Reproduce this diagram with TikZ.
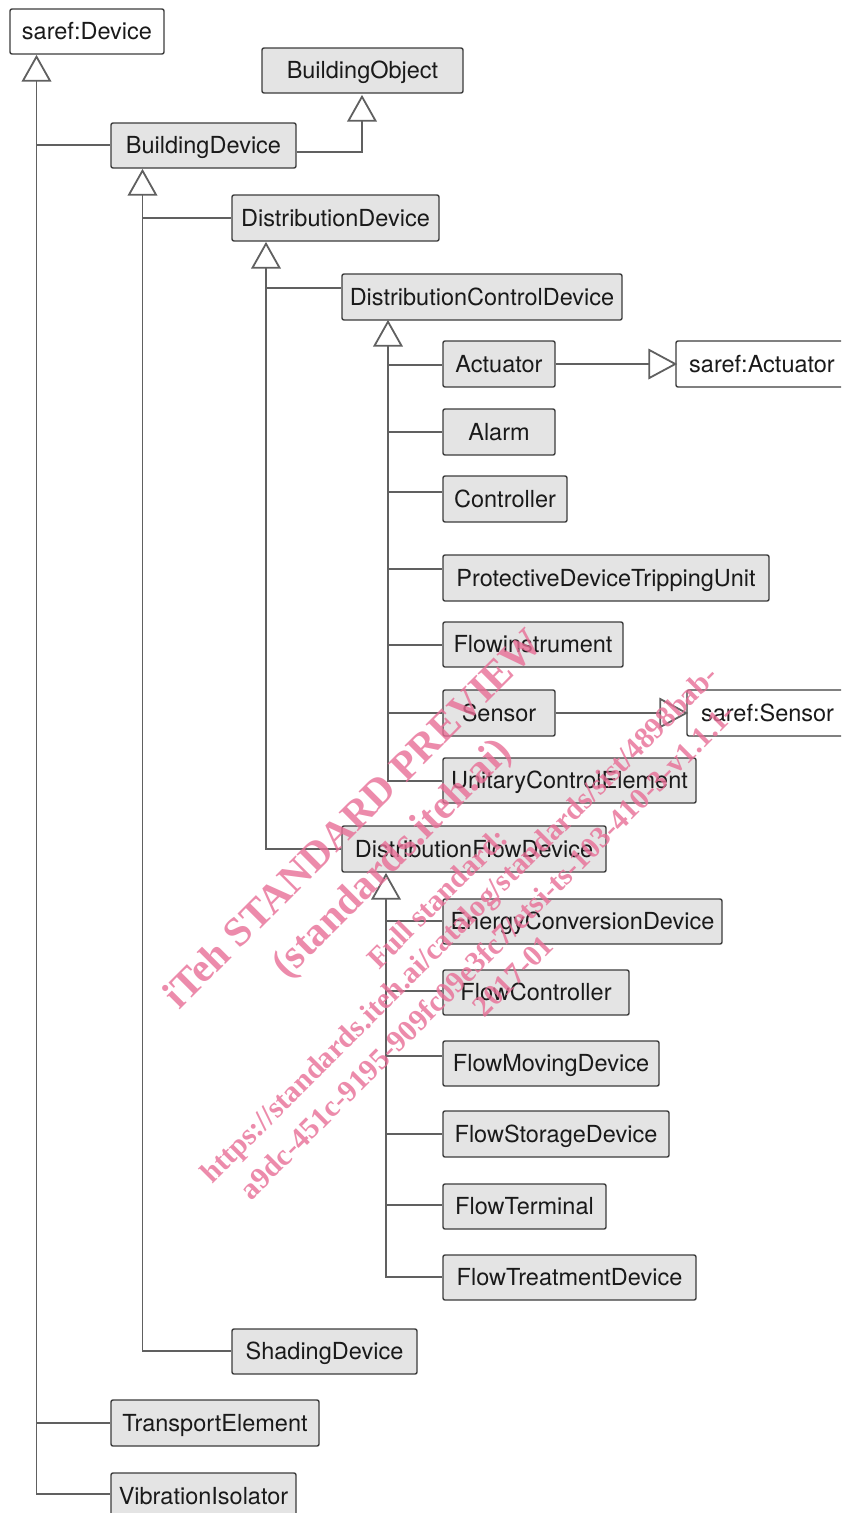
\documentclass[tikz,border=0pt]{standalone}
\usepackage{fontspec}
\setmainfont{TeX Gyre Heros}
\newfontfamily\wmfont{Liberation Serif}
\definecolor{boxfill}{HTML}{E4E4E4}
\definecolor{boxline}{HTML}{3C3C3C}
\definecolor{lineclr}{HTML}{606060}
\definecolor{txtclr}{HTML}{1A1A1A}
\definecolor{wmpink}{RGB}{232,110,150}
\newcommand\umlbox[7]{\node[#1, minimum width={(#4-#3)*1pt}, minimum height={(#6-#5)*1pt}] (#2) at ({(#3+#4)/2},{(#5+#6)/2}) {#7};}
\newcommand\genup[1]{\draw[gen] (#1) -- ++(13.5,24) -- ++(-27,0) -- cycle;}
\newcommand\genright[1]{\draw[gen] (#1) -- ++(-26,-14) -- ++(0,28) -- cycle;}
\tikzset{
  cls/.style={draw=boxline, fill=boxfill, line width=1.4pt, rounded corners=2pt, inner sep=0pt,
    text height=16.8pt, text depth=0pt, font=\fontsize{23.5}{28}\selectfont, text=txtclr},
  ext/.style={cls, fill=white},
  conn/.style={draw=lineclr, line width=1.8pt},
  gen/.style={draw=lineclr, fill=white, line width=1.8pt, line join=miter},
  wm/.style={text=wmpink, opacity=0.8, font=\wmfont\bfseries\fontsize{41}{49}\selectfont, rotate=45, inner sep=0pt},
  wmsmall/.style={wm, font=\wmfont\bfseries\fontsize{30}{35}\selectfont},
}
\begin{document}
\begin{tikzpicture}[x=1pt,y=-1pt]
\useasboundingbox (0,0) rectangle (841,1513);
\clip (0,0) rectangle (841,1513);
\fill[white] (0,0) rectangle (841,1513);

% boxes
\umlbox{ext}{sdev}{10}{164}{9}{54}{saref:Device}
\umlbox{cls}{bobj}{262}{463}{48}{93}{BuildingObject}
\umlbox{cls}{bdev}{111}{296}{123}{168}{BuildingDevice}
\umlbox{cls}{ddev}{232}{439}{195}{241}{DistributionDevice}
\umlbox{cls}{dcd}{342}{622}{274}{320}{DistributionControlDevice}
\umlbox{cls}{act}{443}{555}{341}{387}{Actuator}
\umlbox{ext}{sact}{676}{848}{341}{387}{saref:Actuator}
\umlbox{cls}{alarm}{443}{555}{409}{455}{Alarm}
\umlbox{cls}{ctrl}{443}{567}{476}{522}{Controller}
\umlbox{cls}{pdtu}{443}{769}{555}{601}{ProtectiveDeviceTrippingUnit}
\umlbox{cls}{fi}{443}{623}{622}{667}{Flowinstrument}
\umlbox{cls}{sens}{443}{555}{690}{736}{Sensor}
\umlbox{ext}{ssens}{687}{848}{690}{736}{saref:Sensor}
\umlbox{cls}{uce}{443}{696}{758}{803}{UnitaryControlElement}
\umlbox{cls}{dfd}{342}{606}{826}{872}{DistributionFlowDevice}
\umlbox{cls}{ecd}{443}{722}{899}{944}{EnergyConversionDevice}
\umlbox{cls}{fc}{443}{629}{970}{1015}{FlowController}
\umlbox{cls}{fmd}{443}{659}{1041}{1086}{FlowMovingDevice}
\umlbox{cls}{fsd}{443}{669}{1111}{1157}{FlowStorageDevice}
\umlbox{cls}{ft}{443}{606}{1184}{1229}{FlowTerminal}
\umlbox{cls}{ftd}{443}{696}{1255}{1300}{FlowTreatmentDevice}
\umlbox{cls}{shd}{232}{417}{1329}{1374}{ShadingDevice}
\umlbox{cls}{te}{111}{319}{1400}{1446}{TransportElement}
\umlbox{cls}{vi}{111}{296}{1473}{1519}{VibrationIsolator}

% triangle tips
\coordinate (tA) at (sdev.south -| 36.5,0);
\coordinate (tB) at (bdev.south -| 142.5,0);
\coordinate (tD) at (ddev.south -| 266,0);
\coordinate (tC) at (dcd.south -| 388,0);
\coordinate (tF) at (dfd.south -| 386,0);
\coordinate (tO) at (bobj.south -| 362,0);

% saref:Device hierarchy
\draw[conn] ([yshift=-24pt]tA) -- (36.5,1494) -- (vi.west |- 0,1494);
\draw[conn] (36.5,145) -- (bdev.west |- 0,145);
\draw[conn] (36.5,1423) -- (te.west |- 0,1423);
% BuildingDevice -> BuildingObject
\draw[conn] (bdev.east |- 0,152) -| ([yshift=-24pt]tO);
% BuildingDevice hierarchy
\draw[conn] ([yshift=-24pt]tB) -- (142.5,1351) -- (shd.west |- 0,1351);
\draw[conn] (142.5,218) -- (ddev.west |- 0,218);
% DistributionDevice hierarchy
\draw[conn] ([yshift=-24pt]tD) -- (266,849) -- (dfd.west |- 0,849);
\draw[conn] (266,288) -- (dcd.west |- 0,288);
% DistributionControlDevice hierarchy
\draw[conn] ([yshift=-24pt]tC) -- (388,781) -- (uce.west |- 0,781);
\draw[conn] (388,365) -- (act.west |- 0,365);
\draw[conn] (388,432) -- (alarm.west |- 0,432);
\draw[conn] (388,492) -- (ctrl.west |- 0,492);
\draw[conn] (388,569) -- (pdtu.west |- 0,569);
\draw[conn] (388,645) -- (fi.west |- 0,645);
\draw[conn] (388,713) -- (sens.west |- 0,713);
% DistributionFlowDevice hierarchy
\draw[conn] ([yshift=-24pt]tF) -- (386,1277) -- (ftd.west |- 0,1277);
\draw[conn] (386,921) -- (ecd.west |- 0,921);
\draw[conn] (386,991) -- (fc.west |- 0,991);
\draw[conn] (386,1056) -- (fmd.west |- 0,1056);
\draw[conn] (386,1134) -- (fsd.west |- 0,1134);
\draw[conn] (386,1205) -- (ft.west |- 0,1205);
% realisations to saref
\coordinate (tSA) at (sact.west |- 0,364);
\coordinate (tSS) at (ssens.west |- 0,713);
\draw[conn] (act.east |- 0,364) -- ([xshift=-26pt]tSA);
\draw[conn] (sens.east |- 0,713) -- ([xshift=-26pt]tSS);

% generalisation heads
\genup{[yshift=-2pt]tA}
\genup{[yshift=-3pt]tO}
\genup{[yshift=-2pt]tB}
\genup{[yshift=-2pt]tD}
\genup{[yshift=-1pt]tC}
\genup{[yshift=-2pt]tF}
\genright{tSA}
\genright{tSS}

% watermark
\node[wm] (wm1) at (352,818) {iTeh STANDARD PREVIEW};
\node[wm] (wm2) at (393,860) {(standards.iteh.ai)};
\node[wmsmall] (wm3) at (437,898) {Full standard:};
\node[wmsmall] (wm4) at (461,926) {https://standards.iteh.ai/catalog/standards/sist/4898bab-};
\node[wmsmall] (wm5) at (487,951) {a9dc-451c-9195-909fc09e3fc7/etsi-ts-103-410-3-v1.1.1-};
\node[wmsmall] (wm6) at (513,976) {2017-01};
\end{tikzpicture}
\end{document}
